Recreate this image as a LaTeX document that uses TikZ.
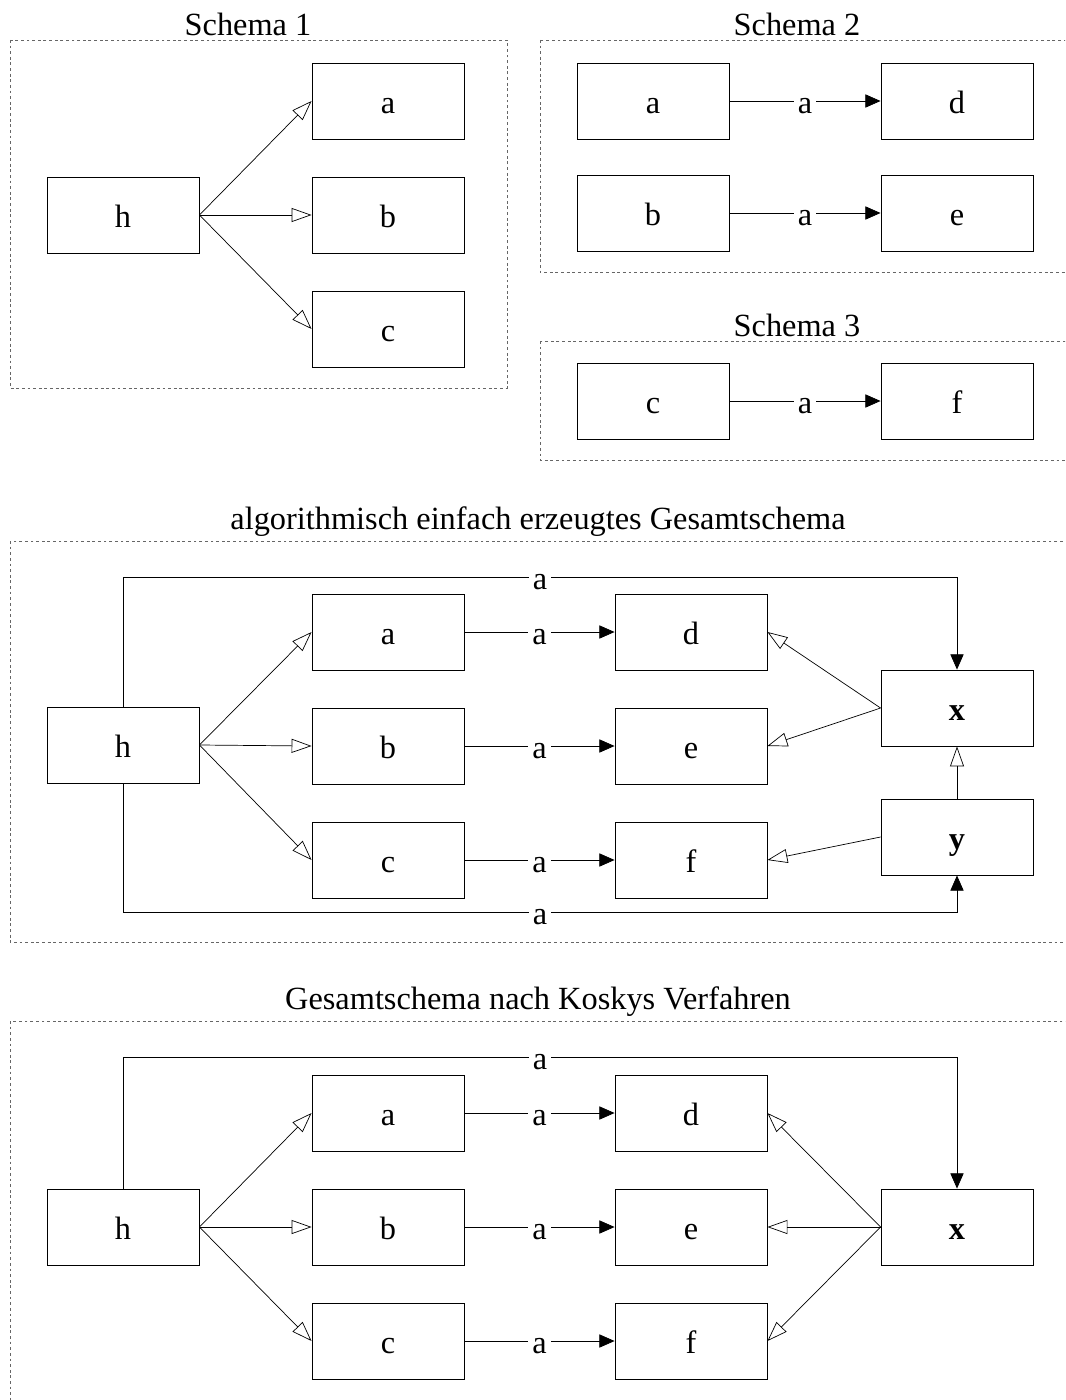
\documentclass[tikz,border=0pt]{standalone}
\usepackage{fontspec}
\setmainfont{Liberation Serif}
\usetikzlibrary{arrows.meta}
\begin{document}
\begin{tikzpicture}[
        x=0.025cm, y=-0.025cm,
        every node/.style={font=\fontsize{23}{28}\selectfont},
        box/.style={draw, rectangle, minimum width=3.8cm, minimum height=1.9cm, inner sep=0pt, text height=17.5pt, text depth=0pt, line width=0.6pt},
        dashframe/.style={draw=black!60, dash pattern=on 2pt off 2pt, line width=0.6pt},
        heading/.style={anchor=south, inner sep=2.8pt},
        lbl/.style={fill=white, inner xsep=3pt, inner ysep=0pt, text height=17.5pt, text depth=0pt},
        openarrow/.style={draw, line width=0.5pt, -{Triangle[open, length=0.5cm, width=0.35cm]}},
        fillarrow/.style={draw, line width=0.5pt, -{Triangle[length=0.38cm, width=0.33cm]}},
    ]
    \clip (0,0) rectangle (1065,1400);

    % Schema 1
    \draw[dashframe] (10,40) rectangle (507,388);
    \node[heading](s1) at (248,40){Schema 1};
    \node[box](h1) at (123,215){h};
    \node[box](a1) at (388,101){a};
    \node[box](b1) at (388,215){b};
    \node[box](c1) at (388,329){c};
    \draw[openarrow] (h1.east) -- (a1.west);
    \draw[openarrow] (h1.east) -- (b1.west);
    \draw[openarrow] (h1.east) -- (c1.west);

    % Schema 2
    \draw[dashframe] (540,40) rectangle (1100,272);
    \node[heading](s2) at (797,40){Schema 2};
    \node[box](a2) at (653,101){a};
    \node[box](d2) at (957,101){d};
    \node[box](b2) at (653,213){b};
    \node[box](e2) at (957,213){e};
    \draw[fillarrow] (a2) -- node[lbl]{a} (d2);
    \draw[fillarrow] (b2) -- node[lbl]{a} (e2);

    % Schema 3
    \draw[dashframe] (540,341) rectangle (1100,460);
    \node[heading](s3) at (797,341){Schema 3};
    \node[box](c3) at (653,401){c};
    \node[box](f3) at (957,401){f};
    \draw[fillarrow] (c3) -- node[lbl]{a} (f3);

    % algorithmisch erzeugtes Gesamtschema
    \draw[dashframe] (10,541) rectangle (1100,942);
    \node[heading](s4) at (538,541){algorithmisch einfach erzeugtes Gesamtschema};
    \node[box](h4) at (123,745){h};
    \node[box](a4) at (388,632){a};
    \node[box](b4) at (388,746){b};
    \node[box](c4) at (388,860){c};
    \node[box](d4) at (691,632){d};
    \node[box](e4) at (691,746){e};
    \node[box](f4) at (691,860){f};
    \node[box](x4) at (957,708){\textbf{x}};
    \node[box](y4) at (957,837){\textbf{y}};
    \draw[openarrow] (h4.east) -- (a4.west);
    \draw[openarrow] (h4.east) -- (b4.west);
    \draw[openarrow] (h4.east) -- (c4.west);
    \draw[fillarrow] (a4) -- node[lbl]{a} (d4);
    \draw[fillarrow] (b4) -- node[lbl]{a} (e4);
    \draw[fillarrow] (c4) -- node[lbl]{a} (f4);
    \draw[openarrow] (x4.west) -- (d4.east);
    \draw[openarrow] (x4.west) -- (e4.east);
    \draw[openarrow] (y4) -- (x4);
    \draw[openarrow] (y4.west) -- (f4.east);
    \draw[fillarrow] (h4.north) -- ++(0,-129) -| node[pos=0.25, lbl]{a} (x4.north);
    \draw[fillarrow] (h4.south) -- ++(0,129) -| node[pos=0.25, lbl]{a} (y4.south);

    % Koskys Verfahren
    \draw[dashframe] (10,1021) rectangle (1100,1450);
    \node[heading](s5) at (538,1021){Gesamtschema nach Koskys Verfahren};
    \node[box](h5) at (123,1227){h};
    \node[box](a5) at (388,1113){a};
    \node[box](b5) at (388,1227){b};
    \node[box](c5) at (388,1341){c};
    \node[box](d5) at (691,1113){d};
    \node[box](e5) at (691,1227){e};
    \node[box](f5) at (691,1341){f};
    \node[box](x5) at (957,1227){\textbf{x}};
    \draw[openarrow] (h5.east) -- (a5.west);
    \draw[openarrow] (h5.east) -- (b5.west);
    \draw[openarrow] (h5.east) -- (c5.west);
    \draw[fillarrow] (a5) -- node[lbl]{a} (d5);
    \draw[fillarrow] (b5) -- node[lbl]{a} (e5);
    \draw[fillarrow] (c5) -- node[lbl]{a} (f5);
    \draw[openarrow] (x5.west) -- (d5.east);
    \draw[openarrow] (x5.west) -- (e5.east);
    \draw[openarrow] (x5.west) -- (f5.east);
    \draw[fillarrow] (h5.north) -- ++(0,-131) -| node[pos=0.25, lbl]{a} (x5.north);
\end{tikzpicture}
\end{document}
